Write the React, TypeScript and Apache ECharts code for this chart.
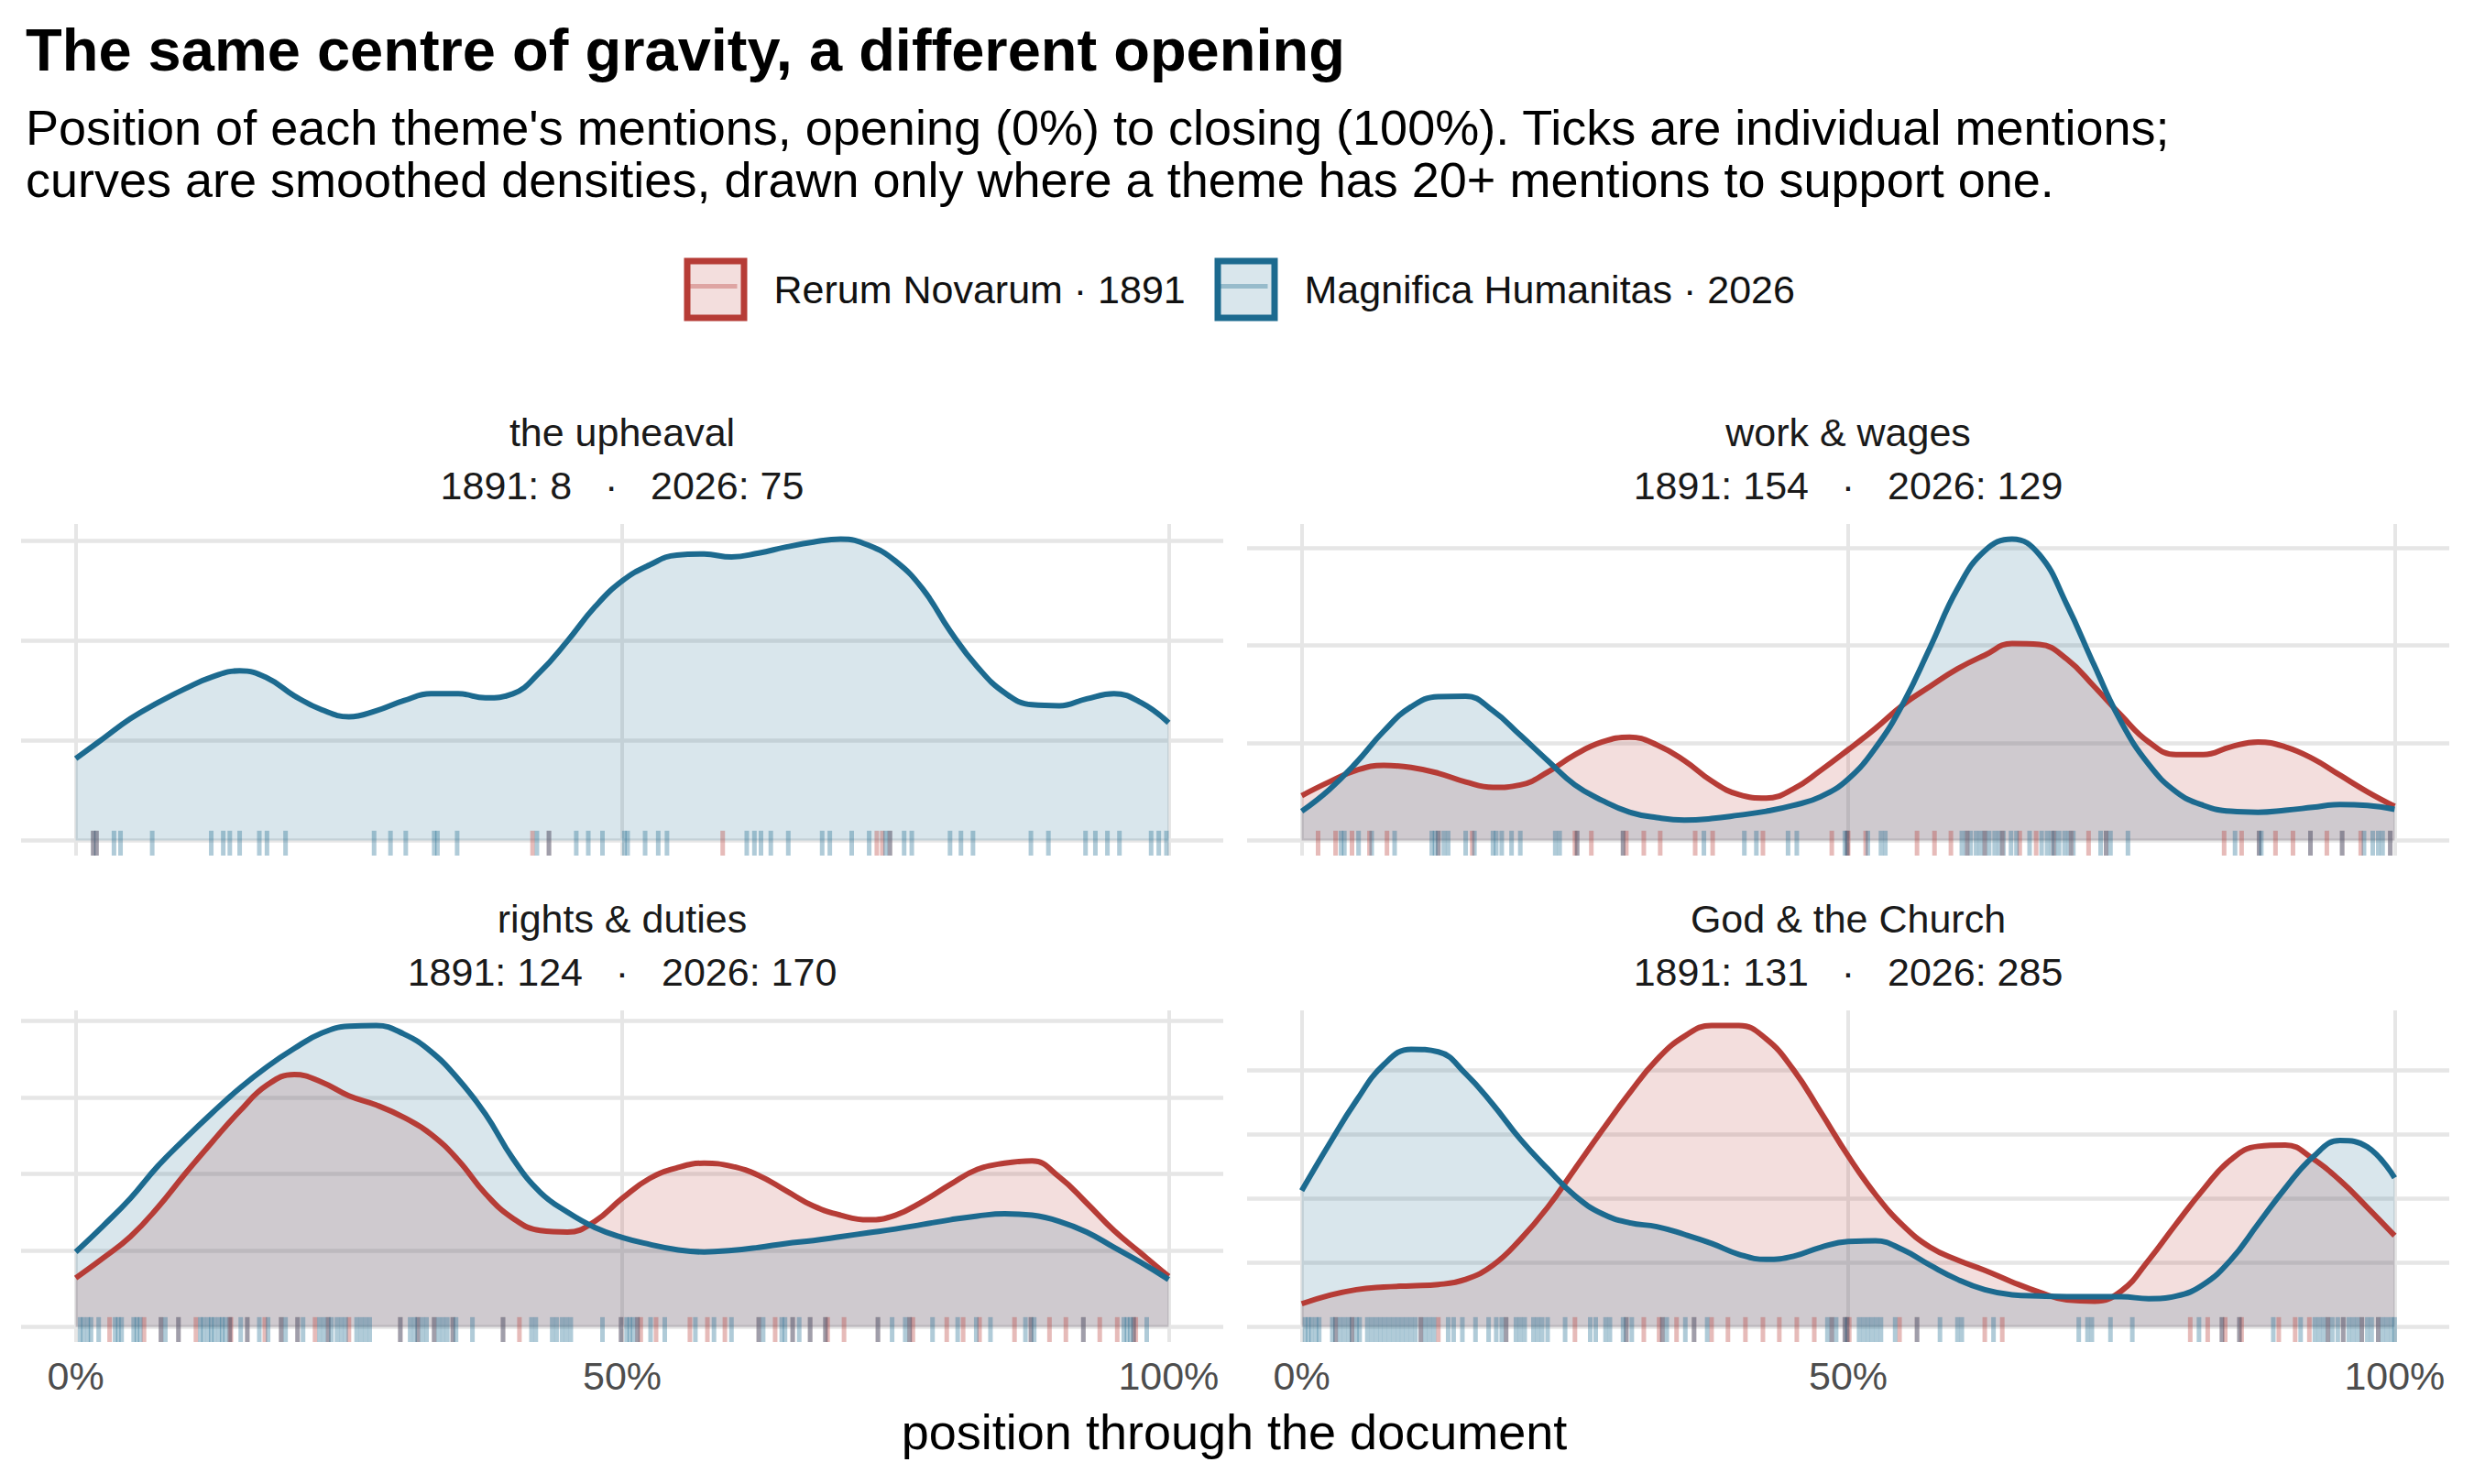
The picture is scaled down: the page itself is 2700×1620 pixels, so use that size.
import { useEffect, useRef } from "react";
import * as echarts from "echarts";

const FONT = "'Liberation Sans', Arial, Helvetica, sans-serif";
const RED = "#B63C36";
const BLUE = "#1C6A8F";
const RED_FILL = "rgba(182, 60, 54, 0.17)";
const BLUE_FILL = "rgba(28, 106, 143, 0.17)";
const RED_RUG = "rgba(182, 60, 54, 0.35)";
const BLUE_RUG = "rgba(28, 106, 143, 0.35)";
const GRID_LINE = "#E6E6E6";

const SERIES_1891 = "Rerum Novarum · 1891";
const SERIES_2026 = "Magnifica Humanitas · 2026";

const THEMES = ["the upheaval", "work & wages", "rights & duties", "God & the Church"];
const COUNTS_1891 = [8, 154, 124, 131];
const COUNTS_2026 = [75, 129, 170, 285];

// position through the document (0 = opening, 1 = closing) where the densities are sampled
const XS = [
  0, 0.025, 0.05, 0.075, 0.1, 0.125, 0.15, 0.175, 0.2, 0.225, 0.25, 0.275, 0.3, 0.325,
  0.35, 0.375, 0.4, 0.425, 0.45, 0.475, 0.5, 0.525, 0.55, 0.575, 0.6, 0.625, 0.65, 0.675,
  0.7, 0.725, 0.75, 0.775, 0.8, 0.825, 0.85, 0.875, 0.9, 0.925, 0.95, 0.975, 1,
];

const UPHEAVAL_2026 = [
  0.41, 0.51, 0.61, 0.69, 0.76, 0.82, 0.85, 0.815, 0.725, 0.655, 0.62, 0.65, 0.7, 0.735,
  0.735, 0.715, 0.735, 0.845, 1.0, 1.17, 1.3, 1.38, 1.43, 1.435, 1.42, 1.44, 1.47, 1.495,
  1.51, 1.48, 1.4, 1.26, 1.05, 0.87, 0.74, 0.68, 0.675, 0.71, 0.735, 0.69, 0.59,
];
const WORK_1891 = [
  0.46, 0.6, 0.72, 0.77, 0.75, 0.69, 0.6, 0.545, 0.57, 0.7, 0.88, 1.01, 1.06, 0.98, 0.82,
  0.61, 0.47, 0.435, 0.53, 0.72, 0.93, 1.15, 1.39, 1.58, 1.76, 1.9, 2.02, 2.01, 1.86, 1.58,
  1.28, 1.01, 0.88, 0.88, 0.96, 1.01, 0.96, 0.84, 0.67, 0.5, 0.35,
];
const WORK_2026 = [
  0.3, 0.52, 0.8, 1.12, 1.37, 1.475, 1.48, 1.33, 1.08, 0.82, 0.57, 0.41, 0.29, 0.235, 0.21,
  0.225, 0.26, 0.3, 0.36, 0.45, 0.63, 0.95, 1.4, 1.98, 2.58, 2.97, 3.09, 2.93, 2.42, 1.8,
  1.21, 0.78, 0.5, 0.36, 0.3, 0.29, 0.31, 0.34, 0.37, 0.36, 0.32,
];
const RIGHTS_1891 = [
  0.32, 0.45, 0.59, 0.78, 1.0, 1.21, 1.41, 1.58, 1.65, 1.6, 1.51, 1.45, 1.37, 1.26, 1.09,
  0.87, 0.71, 0.63, 0.62, 0.69, 0.84, 0.97, 1.04, 1.07, 1.05, 0.99, 0.89, 0.79, 0.73, 0.7,
  0.73, 0.82, 0.93, 1.03, 1.07, 1.085, 0.98, 0.81, 0.63, 0.48, 0.33,
];
const RIGHTS_2026 = [
  0.49, 0.66, 0.84, 1.05, 1.23, 1.4, 1.56, 1.7, 1.82, 1.92, 1.965, 1.97, 1.915, 1.8, 1.62,
  1.39, 1.1, 0.88, 0.75, 0.65, 0.585, 0.54, 0.505, 0.49, 0.5, 0.52, 0.545, 0.565, 0.59,
  0.615, 0.64, 0.67, 0.7, 0.725, 0.74, 0.73, 0.69, 0.62, 0.52, 0.42, 0.31,
];
const GOD_1891 = [
  0.18, 0.245, 0.29, 0.31, 0.32, 0.33, 0.37, 0.48, 0.68, 0.93, 1.23, 1.53, 1.82, 2.08, 2.26,
  2.345, 2.345, 2.24, 2.0, 1.67, 1.33, 1.03, 0.79, 0.62, 0.52, 0.44, 0.35, 0.27, 0.21, 0.2,
  0.28, 0.52, 0.8, 1.07, 1.3, 1.405, 1.415, 1.31, 1.14, 0.93, 0.71,
];
const GOD_2026 = [
  1.06, 1.42, 1.76, 2.04, 2.16, 2.14, 1.97, 1.73, 1.46, 1.23, 1.02, 0.88, 0.81, 0.78, 0.72,
  0.65, 0.565, 0.525, 0.55, 0.62, 0.665, 0.67, 0.6, 0.48, 0.37, 0.29, 0.25, 0.24, 0.235,
  0.235, 0.235, 0.22, 0.24, 0.33, 0.52, 0.8, 1.08, 1.32, 1.45, 1.4, 1.16,
];

// individual mentions (rug ticks), position through the document
const UPHEAVAL_TICKS_1891 = [0.016, 0.019, 0.418, 0.433, 0.592, 0.733, 0.738, 0.745];
const UPHEAVAL_TICKS_2026 = [
  0.016, 0.019, 0.035, 0.041, 0.07, 0.124, 0.135, 0.141, 0.15, 0.168, 0.175, 0.192, 0.273,
  0.288, 0.302, 0.328, 0.331, 0.349, 0.422, 0.433, 0.458, 0.469, 0.482, 0.502, 0.505, 0.521,
  0.533, 0.541, 0.614, 0.621, 0.627, 0.636, 0.652, 0.683, 0.69, 0.71, 0.726, 0.741, 0.745,
  0.758, 0.765, 0.8, 0.81, 0.821, 0.874, 0.89, 0.924, 0.933, 0.944, 0.955, 0.984, 0.991, 0.998,
];
const WORK_TICKS_1891 = [
  0.015, 0.031, 0.046, 0.062, 0.078, 0.125, 0.156, 0.25, 0.252, 0.265, 0.294, 0.297, 0.313,
  0.328, 0.36, 0.376, 0.422, 0.485, 0.499, 0.5, 0.516, 0.563, 0.579, 0.594, 0.609, 0.625,
  0.641, 0.657, 0.672, 0.688, 0.704, 0.72, 0.736, 0.844, 0.86, 0.876, 0.891, 0.907, 0.923,
  0.938, 0.952, 0.969, 0.996,
];
const WORK_TICKS_2026 = [
  0.036, 0.039, 0.052, 0.064, 0.085, 0.119, 0.122, 0.125, 0.13, 0.134, 0.15, 0.158, 0.175,
  0.178, 0.183, 0.192, 0.2, 0.232, 0.236, 0.252, 0.294, 0.368, 0.405, 0.416, 0.445, 0.453,
  0.497, 0.499, 0.518, 0.53, 0.534, 0.604, 0.608, 0.612, 0.617, 0.621, 0.625, 0.629, 0.634,
  0.638, 0.642, 0.649, 0.654, 0.666, 0.677, 0.682, 0.686, 0.689, 0.693, 0.698, 0.702, 0.706,
  0.731, 0.736, 0.74, 0.756, 0.854, 0.876, 0.878, 0.923, 0.952, 0.972, 0.98, 0.985, 0.989,
  0.996,
];
const RIGHTS_TICKS_1891 = [
  0.031, 0.0625, 0.078, 0.094, 0.11, 0.141, 0.142, 0.157, 0.173, 0.188, 0.203, 0.219, 0.231,
  0.25, 0.297, 0.313, 0.328, 0.345, 0.391, 0.406, 0.499, 0.514, 0.517, 0.531, 0.562, 0.578,
  0.594, 0.625, 0.64, 0.656, 0.672, 0.686, 0.688, 0.703, 0.734, 0.763, 0.766, 0.797, 0.812,
  0.827, 0.859, 0.874, 0.891, 0.906, 0.922, 0.937, 0.953, 0.968, 0.97,
];
const RIGHTS_TICKS_2026 = [
  0.004, 0.007, 0.011, 0.014, 0.021, 0.036, 0.039, 0.042, 0.053, 0.056, 0.059, 0.078, 0.082,
  0.094, 0.114, 0.117, 0.121, 0.124, 0.127, 0.131, 0.134, 0.137, 0.141, 0.151, 0.157, 0.168,
  0.176, 0.188, 0.192, 0.203, 0.208, 0.223, 0.227, 0.231, 0.234, 0.239, 0.243, 0.247, 0.257,
  0.261, 0.265, 0.269, 0.297, 0.306, 0.31, 0.313, 0.317, 0.321, 0.328, 0.332, 0.336, 0.34,
  0.345, 0.348, 0.363, 0.391, 0.417, 0.421, 0.436, 0.44, 0.445, 0.449, 0.453, 0.482, 0.499,
  0.504, 0.507, 0.51, 0.514, 0.526, 0.539, 0.567, 0.584, 0.6, 0.625, 0.629, 0.646, 0.649,
  0.656, 0.662, 0.672, 0.686, 0.734, 0.747, 0.759, 0.763, 0.784, 0.807, 0.824, 0.837, 0.869,
  0.874, 0.877, 0.922, 0.959, 0.962, 0.965, 0.968, 0.98,
];
const GOD_TICKS_1891 = [
  0.031, 0.046, 0.109, 0.125, 0.187, 0.25, 0.297, 0.313, 0.327, 0.33, 0.343, 0.359, 0.375,
  0.39, 0.406, 0.422, 0.437, 0.453, 0.469, 0.485, 0.497, 0.499, 0.501, 0.547, 0.563, 0.625,
  0.641, 0.813, 0.829, 0.842, 0.845, 0.858, 0.86, 0.894, 0.909, 0.922, 0.939, 0.953, 0.97,
  0.985,
];
const GOD_TICKS_2026 = [
  0.003, 0.006, 0.009, 0.013, 0.016, 0.028, 0.031, 0.035, 0.039, 0.043, 0.046, 0.05, 0.053,
  0.06, 0.064, 0.068, 0.072, 0.076, 0.08, 0.084, 0.088, 0.092, 0.096, 0.1, 0.104, 0.109,
  0.113, 0.117, 0.121, 0.134, 0.139, 0.147, 0.159, 0.171, 0.178, 0.183, 0.187, 0.196, 0.2,
  0.204, 0.212, 0.216, 0.22, 0.225, 0.241, 0.264, 0.269, 0.278, 0.282, 0.294, 0.297, 0.302,
  0.33, 0.334, 0.351, 0.359, 0.371, 0.481, 0.485, 0.489, 0.497, 0.499, 0.51, 0.514, 0.518,
  0.522, 0.526, 0.53, 0.543, 0.563, 0.584, 0.6, 0.604, 0.633, 0.711, 0.719, 0.723, 0.74,
  0.76, 0.821, 0.842, 0.858, 0.889, 0.914, 0.927, 0.931, 0.935, 0.939, 0.943, 0.948, 0.953,
  0.958, 0.962, 0.966, 0.97, 0.975, 0.979, 0.985, 0.989, 0.993, 0.997, 1.0,
];

// null: fewer than 20 mentions, no curve drawn
const DENSITY_1891 = [null, WORK_1891, RIGHTS_1891, GOD_1891];
const DENSITY_2026 = [UPHEAVAL_2026, WORK_2026, RIGHTS_2026, GOD_2026];
const TICKS_1891 = [UPHEAVAL_TICKS_1891, WORK_TICKS_1891, RIGHTS_TICKS_1891, GOD_TICKS_1891];
const TICKS_2026 = [UPHEAVAL_TICKS_2026, WORK_TICKS_2026, RIGHTS_TICKS_2026, GOD_TICKS_2026];

const X_BREAKS = [0, 0.5, 1];
const Y_BREAKS = [
  [0, 0.5, 1, 1.5],
  [0, 1, 2, 3],
  [0, 0.5, 1, 1.5, 2],
  [0, 0.5, 1, 1.5, 2],
];

// panel layout (px)
const PANELS = [
  { left: 23, top: 572 },
  { left: 1361, top: 572 },
  { left: 23, top: 1103 },
  { left: 1361, top: 1103 },
];
const PANEL_W = 1312;
const PANEL_H = 362;
const EXPAND = 0.05;
const RUG_LENGTH = 0.075;

// legend keys (left edge of each key box)
const LEGEND_KEYS = [
  { name: SERIES_1891, left: 746.5, line: RED, fill: RED_FILL, rug: RED_RUG },
  { name: SERIES_2026, left: 1325.5, line: BLUE, fill: BLUE_FILL, rug: BLUE_RUG },
];
const KEY_SIZE = 62;
const KEY_TOP = 281.5;

const nbsp3 = "\u00a0\u00a0\u00a0";

function lineSeries(name: string, values: number[], color: string, fill: string, i: number) {
  return {
    type: "line",
    name,
    xAxisIndex: i,
    yAxisIndex: i,
    data: XS.map((x, k) => [x, values[k]]),
    smooth: 0.45,
    symbol: "none",
    silent: true,
    lineStyle: { color, width: 6 },
    itemStyle: { color },
    areaStyle: { color: fill, opacity: 1 },
    z: 2,
  };
}

function rugSeries(name: string, ticks: number[], color: string, i: number) {
  return {
    type: "custom",
    name,
    xAxisIndex: i,
    yAxisIndex: i,
    silent: true,
    z: 4,
    data: ticks.map((t) => [t, 0]),
    encode: { x: 0, y: 1 },
    renderItem: (params: any, api: any) => {
      const cs = params.coordSys;
      const x = api.coord([api.value(0), 0])[0];
      const bottom = cs.y + cs.height;
      return {
        type: "line",
        shape: { x1: x, y1: bottom, x2: x, y2: bottom - cs.height * RUG_LENGTH },
        style: { stroke: color, lineWidth: 5 },
      };
    },
  };
}

function text(x: number, y: number, str: string, size: number, align: string, extra: any = {}) {
  return {
    type: "text",
    x,
    y,
    style: {
      text: str,
      fontSize: size,
      fontFamily: FONT,
      fill: "#000000",
      align,
      verticalAlign: "middle",
      ...extra,
    },
  };
}

export default function App() {
  const chartRef = useRef<HTMLDivElement>(null);

  useEffect(() => {
    if (!chartRef.current) return;
    const chart = echarts.init(chartRef.current, null, { renderer: "svg" });

    const yMax = PANELS.map((_, i) =>
      Math.max(...DENSITY_2026[i], ...(DENSITY_1891[i] ?? [])),
    );

    const series: any[] = [];
    PANELS.forEach((_, i) => {
      const d1891 = DENSITY_1891[i];
      if (d1891) series.push(lineSeries(SERIES_1891, d1891, RED, RED_FILL, i));
      series.push(lineSeries(SERIES_2026, DENSITY_2026[i], BLUE, BLUE_FILL, i));
    });
    PANELS.forEach((_, i) => {
      series.push(rugSeries(SERIES_1891, TICKS_1891[i], RED_RUG, i));
      series.push(rugSeries(SERIES_2026, TICKS_2026[i], BLUE_RUG, i));
    });

    const stripText: any[] = [];
    PANELS.forEach((p, i) => {
      const cx = p.left + PANEL_W / 2;
      stripText.push(text(cx, p.top - 100, THEMES[i], 43, "center", { fill: "#1A1A1A" }));
      stripText.push(
        text(
          cx,
          p.top - 42,
          `1891: ${COUNTS_1891[i]}${nbsp3}·${nbsp3}2026: ${COUNTS_2026[i]}`,
          43,
          "center",
          { fill: "#1A1A1A" },
        ),
      );
    });

    // rug key: a short horizontal stroke through the middle of each legend key
    const keyStripes = LEGEND_KEYS.map((k) => ({
      type: "rect",
      z: 10,
      silent: true,
      shape: { x: k.left + 4, y: KEY_TOP + KEY_SIZE / 2 - 2.5, width: KEY_SIZE - 8, height: 5 },
      style: { fill: k.rug },
    }));

    const option: any = {
      animation: false,
      backgroundColor: "#ffffff",
      textStyle: { fontFamily: FONT },
      legend: LEGEND_KEYS.map((k) => ({
        left: k.left,
        top: KEY_TOP,
        padding: 0,
        itemWidth: KEY_SIZE,
        itemHeight: KEY_SIZE,
        selectedMode: false,
        icon: "rect",
        textStyle: { fontFamily: FONT, fontSize: 43, color: "#111111", padding: [0, 0, 0, 27.5] },
        data: [
          { name: k.name, icon: "rect", itemStyle: { color: k.fill, borderColor: k.line, borderWidth: 7 } },
        ],
      })),
      grid: PANELS.map((p) => ({
        left: p.left,
        top: p.top,
        width: PANEL_W,
        height: PANEL_H,
        outerBoundsMode: "none",
      })),
      xAxis: PANELS.map((_, i) => ({
        type: "value",
        gridIndex: i,
        min: -EXPAND,
        max: 1 + EXPAND,
        axisLine: { show: false, onZero: false },
        axisTick: { show: false, customValues: X_BREAKS },
        axisLabel: {
          show: i >= 2,
          customValues: X_BREAKS,
          formatter: (v: number) => `${Math.round(v * 100)}%`,
          fontSize: 43,
          fontFamily: FONT,
          color: "#4D4D4D",
          margin: 15,
        },
        splitLine: { show: true, lineStyle: { color: GRID_LINE, width: 4 } },
      })),
      yAxis: PANELS.map((_, i) => ({
        type: "value",
        gridIndex: i,
        min: -EXPAND * yMax[i],
        max: (1 + EXPAND) * yMax[i],
        axisLine: { show: false },
        axisTick: { show: false, customValues: Y_BREAKS[i] },
        axisLabel: { show: false, customValues: Y_BREAKS[i] },
        splitLine: { show: true, lineStyle: { color: GRID_LINE, width: 4.5 } },
      })),
      graphic: [
        text(28, 54, "The same centre of gravity, a different opening", 65, "left", {
          fontWeight: "bold",
        }),
        text(
          28,
          139,
          "Position of each theme's mentions, opening (0%) to closing (100%). Ticks are individual mentions;",
          54,
          "left",
        ),
        text(
          28,
          196,
          "curves are smoothed densities, drawn only where a theme has 20+ mentions to support one.",
          54,
          "left",
        ),
        ...stripText,
        text(1347, 1563, "position through the document", 54, "center"),
        ...keyStripes,
      ],
      series,
    };

    chart.setOption(option);
    return () => chart.dispose();
  }, []);

  return (
    <div
      ref={chartRef}
      style={{ position: "absolute", left: 0, top: 0, width: 2700, height: 1620, background: "#fff" }}
    />
  );
}
